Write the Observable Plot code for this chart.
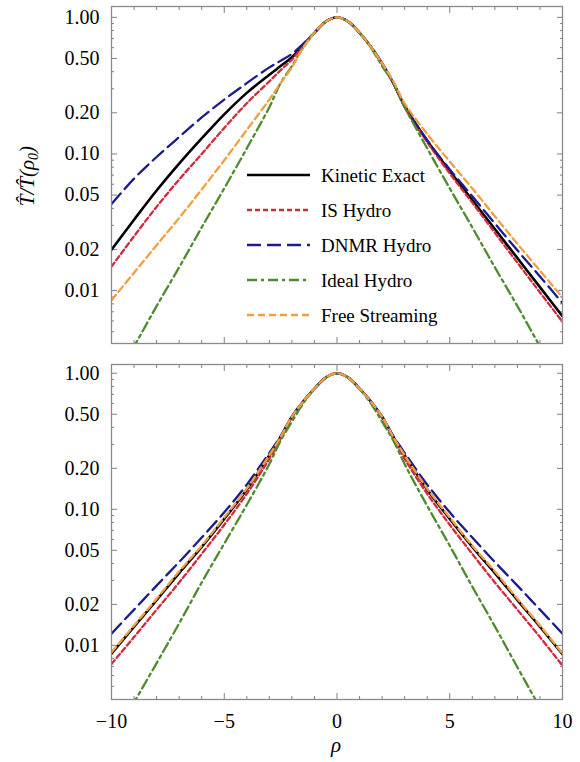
<!DOCTYPE html>
<html><head><meta charset="utf-8">
<script src="https://cdn.jsdelivr.net/npm/d3@7"></script>
<script src="https://cdn.jsdelivr.net/npm/@observablehq/plot@0.6"></script>
<style>
body{margin:0;background:#fff;}
#wrap{position:relative;width:580px;height:762px;font-family:"Liberation Serif",serif;}
#wrap > svg{display:block;}
#overlay{position:absolute;left:0;top:0;pointer-events:none;}
</style></head><body><div id="wrap"></div>
<script>
// ---- data ----
const rho = [-10,-9,-8,-7,-6,-5,-4,-3,-2.5,-2,-1.5,-1,-0.5,0,0.5,1,1.5,2,2.5,3,4,5,6,7,8,9,10];
const seriesNames = ["Kinetic Exact","IS Hydro","DNMR Hydro","Ideal Hydro","Free Streaming"];
const seriesColors = ["#000000","#d22a3c","#1c1c8c","#4f8a2e","#f0a040"];
const seriesDash = ["none","5,3","14,6","10,4,3,4","7,4"];
const seriesWidth = [2.6,2.3,2.3,2.3,2.3];

// top panel
const kineticTop = [0.0199,0.033,0.054,0.085,0.13,0.195,0.28,0.38,0.44,0.51,0.63,0.77,0.93,1,0.93,0.77,0.61,0.46,0.33,0.225,0.125,0.075,0.046,0.0282,0.0173,0.0106,0.0065];
const isTop      = [0.015,0.025,0.041,0.065,0.10,0.155,0.235,0.34,0.41,0.49,0.62,0.77,0.93,1,0.93,0.77,0.61,0.46,0.33,0.22,0.122,0.072,0.044,0.0265,0.016,0.0097,0.0059];
const dnmrTop    = [0.043,0.066,0.095,0.133,0.185,0.25,0.33,0.43,0.48,0.54,0.64,0.77,0.93,1,0.93,0.77,0.61,0.46,0.33,0.225,0.126,0.077,0.049,0.031,0.0197,0.0127,0.0081];
const idealTop   = [0.002,0.0039,0.0077,0.0148,0.029,0.056,0.11,0.22,0.33,0.44,0.60,0.77,0.93,1,0.93,0.77,0.60,0.44,0.33,0.22,0.11,0.056,0.029,0.0148,0.0077,0.0039,0.002];
const freeTop    = [0.0085,0.0135,0.0215,0.034,0.055,0.09,0.15,0.25,0.33,0.43,0.60,0.77,0.93,1,0.93,0.77,0.61,0.46,0.34,0.235,0.14,0.088,0.056,0.035,0.022,0.014,0.0089];

// bottom panel
const kineticBot = [0.0087,0.0137,0.0215,0.034,0.053,0.085,0.14,0.25,0.34,0.48,0.62,0.77,0.93,1,0.93,0.77,0.62,0.48,0.34,0.25,0.14,0.085,0.053,0.034,0.0215,0.0137,0.0086];
const isBot      = [0.0073,0.0115,0.0183,0.029,0.047,0.077,0.13,0.235,0.33,0.47,0.62,0.77,0.93,1,0.93,0.77,0.62,0.47,0.33,0.235,0.13,0.077,0.047,0.029,0.0183,0.0115,0.0071];
const dnmrBot    = [0.0122,0.0183,0.0275,0.041,0.062,0.095,0.152,0.26,0.345,0.48,0.62,0.77,0.93,1,0.93,0.77,0.62,0.48,0.345,0.26,0.152,0.095,0.062,0.041,0.0275,0.0183,0.0122];
const idealBot   = [0.0019,0.0038,0.0074,0.0145,0.029,0.056,0.108,0.215,0.32,0.44,0.60,0.77,0.93,1,0.93,0.77,0.60,0.44,0.32,0.215,0.106,0.054,0.027,0.0138,0.0069,0.0035,0.0018];
const freeBot    = [0.0089,0.014,0.022,0.035,0.054,0.087,0.142,0.25,0.34,0.48,0.62,0.77,0.93,1,0.93,0.77,0.62,0.48,0.34,0.25,0.142,0.087,0.054,0.035,0.022,0.014,0.0087];

// ticks
const yTicks = [0.01,0.02,0.05,0.1,0.2,0.5,1];
const yTickLabels = ["0.01","0.02","0.05","0.10","0.20","0.50","1.00"];
const yMinor = [0.005,0.006,0.007,0.008,0.009,0.03,0.04,0.06,0.07,0.08,0.09,0.3,0.4,0.6,0.7,0.8,0.9];
const xTicks = [-10,-5,0,5,10];
const xMinor = [-9,-8,-7,-6,-4,-3,-2,-1,1,2,3,4,6,7,8,9];

function rows(vals, name) { return rho.map((r, i) => ({rho: r, v: vals[i], series: name})); }

function panel(seriesVals, yDomain, height, marginTop, marginBottom, withXLabels) {
  const tickStroke = "#808080";
  const marks = [
    Plot.axisY(yMinor, {anchor: "left", tickSize: -3, fill: "none", label: null, stroke: tickStroke}),
    Plot.axisY(yMinor, {anchor: "right", tickSize: -3, fill: "none", label: null, stroke: tickStroke}),
    Plot.axisY(yTicks, {anchor: "right", tickSize: -6, fill: "none", label: null, stroke: tickStroke}),
    Plot.axisY(yTicks, {anchor: "left", tickSize: -6, fill: "none", label: null, stroke: tickStroke}),
    Plot.text(yTicks, {y: d => d, text: (d, i) => yTickLabels[i], frameAnchor: "left", dx: -12,
      textAnchor: "end", fontSize: 20, fill: "#000"}),
    Plot.axisX(xMinor, {anchor: "bottom", tickSize: -3, fill: "none", label: null, stroke: tickStroke}),
    Plot.axisX(xMinor, {anchor: "top", tickSize: -3, fill: "none", label: null, stroke: tickStroke}),
    Plot.axisX(xTicks, {anchor: "bottom", tickSize: -6, fill: "none", label: null, stroke: tickStroke}),
    Plot.axisX(xTicks, {anchor: "top", tickSize: -6, fill: "none", label: null, stroke: tickStroke}),
  ];
  if (withXLabels) {
    marks.push(Plot.axisX(xTicks, {anchor: "bottom", tickSize: 0, tickPadding: 14, label: null, fontSize: 20}));
  }
  seriesVals.forEach((vals, i) => {
    marks.push(Plot.line(rows(vals, seriesNames[i]), {
      x: "rho", y: "v", stroke: seriesColors[i], strokeWidth: seriesWidth[i],
      strokeDasharray: seriesDash[i], curve: "catmull-rom", clip: true
    }));
  });
  marks.push(Plot.frame({stroke: "#8a8a8a", strokeWidth: 1.3}));
  return Plot.plot({
    width: 580, height, marginLeft: 111, marginRight: 18, marginTop, marginBottom,
    x: {domain: [-10, 10]},
    y: {type: "log", domain: yDomain},
    style: {fontFamily: "'Liberation Serif', serif", fontSize: "20px", color: "#000", background: "#fff"},
    marks
  });
}

const wrap = document.getElementById("wrap");
wrap.appendChild(panel([kineticTop, isTop, dnmrTop, idealTop, freeTop], [0.0041, 1.2], 350, 6, 7, false));
wrap.appendChild(panel([kineticBot, isBot, dnmrBot, idealBot, freeBot], [0.0040, 1.16], 412, 14, 63, true));

// overlay: legend and axis titles
const ns = "http://www.w3.org/2000/svg";
const ov = document.createElementNS(ns, "svg");
ov.setAttribute("id", "overlay");
ov.setAttribute("width", 580); ov.setAttribute("height", 762);
let html = "";
const legendY = [175, 210, 245, 280, 315];
seriesNames.forEach((name, i) => {
  const y = legendY[i];
  html += `<line x1="247" x2="310" y1="${y}" y2="${y}" stroke="${seriesColors[i]}" stroke-width="${seriesWidth[i]}" stroke-dasharray="${seriesDash[i]}"/>`;
  html += `<text x="321" y="${y}" dy="0.35em" font-family="Liberation Serif" font-size="19">${name}</text>`;
});
html += `<text transform="translate(34,176) rotate(-90)" text-anchor="middle" font-family="Liberation Serif" font-style="italic" font-size="21">T\u0302/T\u0302(ρ<tspan font-size="14" dy="4">0</tspan><tspan dy="-4">)</tspan></text>`;
html += `<text x="336" y="745" dy="0.35em" text-anchor="middle" font-family="Liberation Serif" font-style="italic" font-size="21">ρ</text>`;
ov.innerHTML = html;
wrap.appendChild(ov);
</script>
</body></html>
